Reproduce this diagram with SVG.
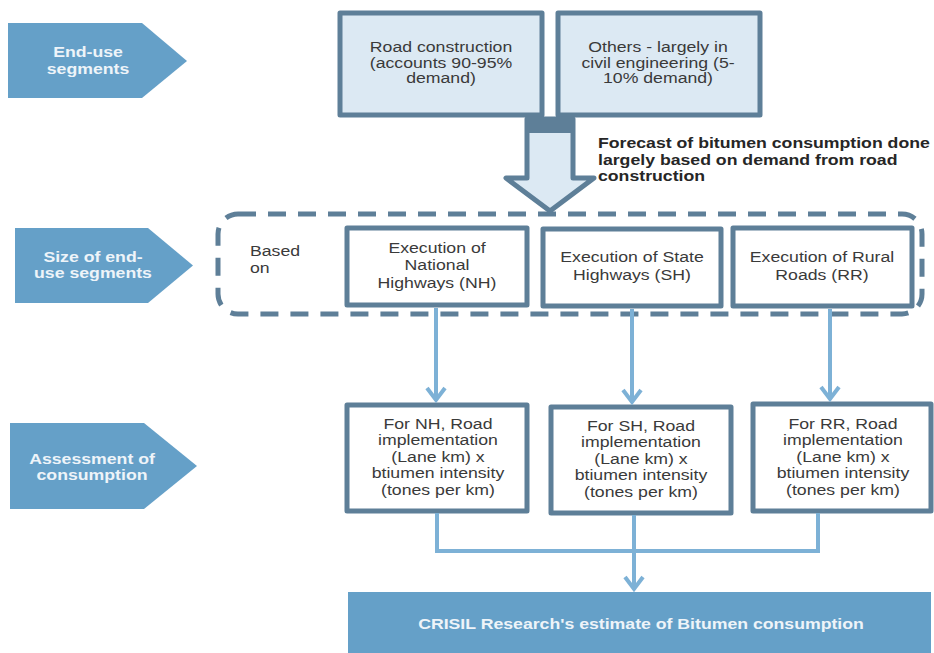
<svg xmlns="http://www.w3.org/2000/svg" width="934" height="653" viewBox="0 0 934 653">
<style>
.pent{fill:#65a0c8}
.pt{font-family:"Liberation Sans",Arial,sans-serif;font-size:14.5px;font-weight:bold;fill:#eef4f9;text-anchor:middle}
.box{stroke:#5e7f98;stroke-width:5;stroke-linejoin:round}
.lb{fill:#dce9f3}
.wh{fill:#ffffff}
.bt{font-family:"Liberation Sans",Arial,sans-serif;font-size:14.5px;fill:#3a3a3a;text-anchor:middle}
.lt{font-family:"Liberation Sans",Arial,sans-serif;font-size:14.5px;fill:#3a3a3a}
.ft{font-family:"Liberation Sans",Arial,sans-serif;font-size:14.5px;font-weight:bold;fill:#262626}
.con{fill:none;stroke:#7db1d6;stroke-width:4}
.dash{fill:none;stroke:#5e7f98;stroke-width:5;stroke-dasharray:18 12}
</style>
<g id="stage-enduse">
<polygon class="pent" points="8,23 142,23 187,61 142,98 8,98"/>
<text class="pt" transform="translate(88,0) scale(1.22,1)"><tspan x="0" y="57.5">End-use</tspan><tspan x="0" y="74">segments</tspan></text>
</g>
<g id="stage-size">
<polygon class="pent" points="15,228 148,228 193,265.5 148,303 15,303"/>
<text class="pt" transform="translate(93,0) scale(1.22,1)"><tspan x="0" y="262">Size of end-</tspan><tspan x="0" y="278">use segments</tspan></text>
</g>
<g id="stage-assess">
<polygon class="pent" points="10,423 144,423 197,466 144,509 10,509"/>
<text class="pt" transform="translate(92,0) scale(1.22,1)"><tspan x="0" y="464">Assessment of</tspan><tspan x="0" y="480">consumption</tspan></text>
</g>
<g id="road-construction">
<rect class="box lb" x="340" y="13" width="202" height="102"/>
<text class="bt" transform="translate(441,0) scale(1.22,1)"><tspan x="0" y="52">Road construction</tspan><tspan x="0" y="68">(accounts 90-95%</tspan><tspan x="0" y="83.5">demand)</tspan></text>
</g>
<g id="others">
<rect class="box lb" x="558" y="13" width="202" height="102"/>
<text class="bt" transform="translate(658,0) scale(1.22,1)"><tspan x="0" y="52">Others - largely in</tspan><tspan x="0" y="68">civil engineering (5-</tspan><tspan x="0" y="83.5">10% demand)</tspan></text>
</g>
<g id="big-arrow">
<polygon class="box lb" points="527,119 573,119 573,178 594,178 550,211 506,178 527,178"/>
<rect x="527" y="117" width="46" height="16" fill="#5e7f98"/>
<text class="ft" transform="translate(598,0) scale(1.22,1)"><tspan x="0" y="148">Forecast of bitumen consumption done</tspan><tspan x="0" y="165">largely based on demand from road</tspan><tspan x="0" y="181">construction</tspan></text>
</g>
<g id="size-group">
<rect class="dash" x="218" y="214" width="704" height="100" rx="20"/>
<text class="lt" transform="translate(250,0) scale(1.22,1)"><tspan x="0" y="256">Based</tspan><tspan x="0" y="273">on</tspan></text>
</g>
<g id="exec-nh">
<rect class="box wh" x="347" y="228" width="180" height="77"/>
<text class="bt" transform="translate(437,0) scale(1.22,1)"><tspan x="0" y="253">Execution of</tspan><tspan x="0" y="270.5">National</tspan><tspan x="0" y="288">Highways (NH)</tspan></text>
</g>
<g id="exec-sh">
<rect class="box wh" x="543" y="229" width="178" height="77"/>
<text class="bt" transform="translate(632,0) scale(1.22,1)"><tspan x="0" y="262">Execution of State</tspan><tspan x="0" y="280">Highways (SH)</tspan></text>
</g>
<g id="exec-rr">
<rect class="box wh" x="733" y="228" width="179" height="78"/>
<text class="bt" transform="translate(822,0) scale(1.22,1)"><tspan x="0" y="262">Execution of Rural</tspan><tspan x="0" y="280">Roads (RR)</tspan></text>
</g>
<g id="assess-nh">
<rect class="box wh" x="347" y="405" width="180" height="106"/>
<text class="bt" transform="translate(438,0) scale(1.22,1)"><tspan x="0" y="429">For NH, Road</tspan><tspan x="0" y="445.5">implementation</tspan><tspan x="0" y="462">(Lane km) x</tspan><tspan x="0" y="478.5">btiumen intensity</tspan><tspan x="0" y="495">(tones per km)</tspan></text>
</g>
<g id="assess-sh">
<rect class="box wh" x="551" y="407" width="180" height="106"/>
<text class="bt" transform="translate(641,0) scale(1.22,1)"><tspan x="0" y="431">For SH, Road</tspan><tspan x="0" y="447.5">implementation</tspan><tspan x="0" y="464">(Lane km) x</tspan><tspan x="0" y="480.5">btiumen intensity</tspan><tspan x="0" y="497">(tones per km)</tspan></text>
</g>
<g id="assess-rr">
<rect class="box wh" x="753" y="404" width="178" height="107"/>
<text class="bt" transform="translate(843,0) scale(1.22,1)"><tspan x="0" y="429">For RR, Road</tspan><tspan x="0" y="445.5">implementation</tspan><tspan x="0" y="462">(Lane km) x</tspan><tspan x="0" y="478.5">btiumen intensity</tspan><tspan x="0" y="495">(tones per km)</tspan></text>
</g>
<g id="estimate">
<rect class="pent" x="348" y="592" width="583" height="61"/>
<text class="pt" transform="translate(641,0) scale(1.22,1)"><tspan x="0" y="629">CRISIL Research's estimate of Bitumen consumption</tspan></text>
</g>
<g id="connectors">
<path class="con" d="M436,308 V400 M427,388 L436,400 L445,388"/>
<path class="con" d="M632,309 V402 M623,390 L632,402 L641,390"/>
<path class="con" d="M830,309 V399 M821,387 L830,399 L839,387"/>
<path class="con" d="M437,513 V551 H818 V513"/>
<path class="con" d="M634,515 V589 M625,577 L634,589 L643,577"/>
</g>
</svg>
